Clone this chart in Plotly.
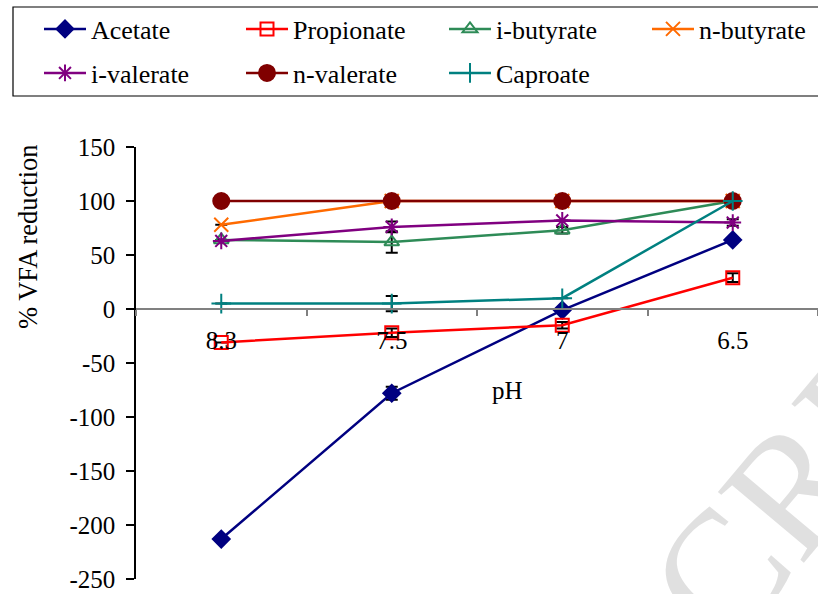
import plotly.graph_objects as go

ph_labels = ["8.3", "7.5", "7", "6.5"]

acetate = [-213, -78, -1, 64]
propionate = [-31, -22, -15, 29]
i_butyrate = [64, 62, 73, 100]
n_butyrate = [78, 100, 100, 100]
i_valerate = [63, 76, 82, 80]
n_valerate = [100, 100, 100, 100]
caproate = [5, 5, 10, 100]

acetate_err = [0, 6, 0, 0]
propionate_err = [0, 4, 3, 4]
i_butyrate_err = [0, 10, 3, 0]
n_butyrate_err = [0, 0, 0, 0]
i_valerate_err = [0, 5, 0, 3]
n_valerate_err = [0, 0, 0, 0]
caproate_err = [0, 7, 0, 0]

y_tick_vals = [-250, -200, -150, -100, -50, 0, 50, 100, 150]
y_tick_text = ["-250", "-200", "-150", "-100", "-50", "0", "50", "100", "150"]

FONT = "Liberation Serif"

W, H = 818, 594
ML, MR, MT, MB = 136, 0, 147, 15
PW = W - ML - MR
PH = H - MT - MB


def px(x):
    return (x - ML) / PW


def py(y):
    return (H - MB - y) / PH


series = [
    ("Acetate", acetate, acetate_err, "#000080", "diamond", 13),
    ("Propionate", propionate, propionate_err, "#FF0000", "square-open", 13),
    ("i-butyrate", i_butyrate, i_butyrate_err, "#2E8B57", "triangle-up-open", 13),
    ("n-butyrate", n_butyrate, n_butyrate_err, "#FF6A00", "x-thin-open", 14),
    ("i-valerate", i_valerate, i_valerate_err, "#800080", "asterisk-open", 14),
    ("n-valerate", n_valerate, n_valerate_err, "#800000", "circle", 16),
    ("Caproate", caproate, caproate_err, "#008080", "cross-thin-open", 14),
]

legend_pos = [(61, 29), (263, 29), (466, 29), (669, 29), (61, 73), (263, 73), (466, 73)]

fig = go.Figure()
for i, (name, vals, err, col, sym, size) in enumerate(series):
    lname = "legend" if i == 0 else f"legend{i + 1}"
    fig.add_trace(go.Scatter(
        x=ph_labels, y=vals, name=name, mode="lines+markers",
        line=dict(color=col, width=2.5),
        marker=dict(symbol=sym, size=size, color=col, line=dict(color=col, width=2)),
        error_y=dict(type="data", array=err, visible=True, color="black", thickness=2, width=6),
        legend=lname, showlegend=True,
    ))

layout_legends = {}
for i, (mx, my) in enumerate(legend_pos):
    lname = "legend" if i == 0 else f"legend{i + 1}"
    layout_legends[lname] = dict(
        x=px(mx - 22), y=py(my), xanchor="left", yanchor="middle",
        bgcolor="rgba(0,0,0,0)", borderwidth=0, itemwidth=42,
        font=dict(family=FONT, size=26, color="black"),
    )

fig.update_layout(
    width=W, height=H,
    margin=dict(l=ML, r=MR, t=MT, b=MB),
    paper_bgcolor="white", plot_bgcolor="white",
    showlegend=True,
    font=dict(family=FONT, size=25, color="black"),
    **layout_legends,
    xaxis=dict(
        type="category", range=[-0.5, 3.5], anchor="free", position=0.625,
        showline=True, linecolor="#808080", linewidth=1.5,
        ticks="outside", tickson="boundaries", ticklen=6, tickcolor="#808080", tickwidth=1.5,
        showgrid=False, zeroline=False, ticklabelstandoff=9,
        tickfont=dict(family=FONT, size=25, color="black"),
    ),
    yaxis=dict(
        range=[-250, 150], tickvals=y_tick_vals, ticktext=y_tick_text,
        showline=True, linecolor="black", linewidth=1.5,
        ticks="outside", ticklen=8, tickcolor="black", tickwidth=1.5,
        showgrid=False, zeroline=False, ticklabelstandoff=6,
        tickfont=dict(family=FONT, size=25, color="black"),
    ),
    shapes=[dict(
        type="rect", xref="paper", yref="paper",
        x0=px(13), x1=px(840), y0=py(96), y1=py(7),
        line=dict(color="black", width=1.2), fillcolor="rgba(0,0,0,0)",
    )],
    annotations=[
        dict(text="MANUSCRIPT", xref="paper", yref="paper", x=px(641), y=py(668),
             xanchor="center", yanchor="middle",
             showarrow=False, textangle=-50,
             font=dict(family=FONT, size=170, color="#E0E0E0")),
        dict(text="% VFA reduction", xref="paper", yref="paper", x=px(28), y=py(237),
             xanchor="center", yanchor="middle",
             showarrow=False, textangle=-90, font=dict(family=FONT, size=26.5, color="black")),
        dict(text="pH", xref="paper", yref="paper", x=px(507), y=py(390),
             xanchor="center", yanchor="middle",
             showarrow=False, font=dict(family=FONT, size=25, color="black")),
    ],
)

fig.write_html("out.html")
